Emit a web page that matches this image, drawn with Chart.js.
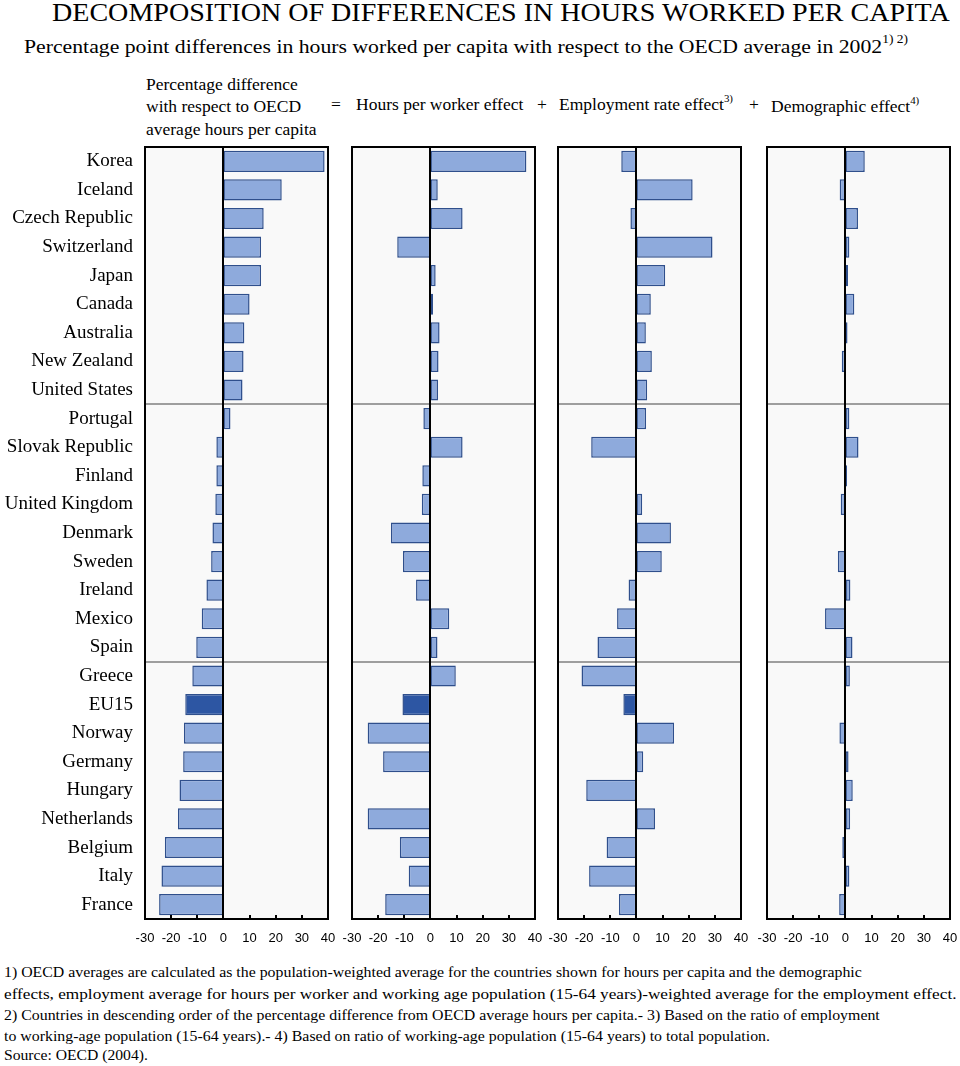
<!DOCTYPE html>
<html>
<head>
<meta charset="utf-8">
<script src="https://cdn.jsdelivr.net/npm/chart.js@4.4.1/dist/chart.umd.min.js"></script>
<style>
  body { margin:0; background:#fff; width:960px; height:1066px; position:relative; overflow:hidden;
         font-family:"Liberation Serif","Times New Roman",serif; color:#000; }
  .t { position:absolute; white-space:nowrap; transform-origin:0 0; line-height:1; }
  .t sup { font-size:62%; vertical-align:top; position:relative; top:-3px; }
  .h { font-size:17.5px; }
  canvas { position:absolute; top:140px; }
</style>
</head>
<body>
<div class="t fit" data-w="898" style="left:52px;top:0;font-size:25px">DECOMPOSITION OF DIFFERENCES IN HOURS WORKED PER CAPITA</div>
<div class="t fit" data-w="884" style="left:24px;top:37px;font-size:19px">Percentage point differences in hours worked per capita with respect to the OECD average in 2002<sup>1) 2)</sup></div>

<div class="t h" style="left:146px;top:76px">Percentage difference</div>
<div class="t h" style="left:146px;top:98px">with respect to OECD</div>
<div class="t h" style="left:146px;top:121px">average hours per capita</div>
<div class="t h" style="left:331px;top:96px">=</div>
<div class="t h" style="left:356px;top:96px">Hours per worker effect</div>
<div class="t h" style="left:537px;top:96px">+</div>
<div class="t h" style="left:559px;top:96px">Employment rate effect<sup>3)</sup></div>
<div class="t h" style="left:749px;top:96px">+</div>
<div class="t h" style="left:771px;top:98px">Demographic effect<sup>4)</sup></div>

<canvas id="c1" width="340" height="810" style="left:0"></canvas>
<canvas id="c2" width="213" height="810" style="left:337px"></canvas>
<canvas id="c3" width="213" height="810" style="left:543px"></canvas>
<canvas id="c4" width="213" height="810" style="left:752px"></canvas>

<div class="t fit" data-w="858" style="left:4px;top:965px;font-size:15px">1) OECD averages are calculated as the population-weighted average for the countries shown for hours per capita and the demographic</div>
<div class="t fit" data-w="953" style="left:4px;top:987px;font-size:15px">effects, employment average for hours per worker and working age population (15-64 years)-weighted average for the employment effect.</div>
<div class="t fit" data-w="876" style="left:4px;top:1008px;font-size:15px">2) Countries in descending order of the percentage difference from OECD average hours per capita.- 3) Based on the ratio of employment</div>
<div class="t fit" data-w="766" style="left:4px;top:1029px;font-size:15px">to working-age population (15-64 years).- 4) Based on ratio of working-age population (15-64 years) to total population.</div>
<div class="t fit" data-w="144" style="left:4px;top:1048px;font-size:15px">Source: OECD (2004).</div>

<script>
'use strict';
const countries = ['Korea','Iceland','Czech Republic','Switzerland','Japan','Canada','Australia','New Zealand','United States',
  'Portugal','Slovak Republic','Finland','United Kingdom','Denmark','Sweden','Ireland','Mexico','Spain',
  'Greece','EU15','Norway','Germany','Hungary','Netherlands','Belgium','Italy','France'];
const perCapita      = [38.7,22.3,15.4,14.4,14.4,10.0,8.0,7.7,7.3,2.7,-2.7,-2.7,-3.1,-4.2,-4.7,-6.5,-8.3,-10.4,-11.9,-14.6,-15.1,-15.4,-16.8,-17.4,-22.4,-23.7,-24.6];
const hoursPerWorker = [36.7,2.8,12.3,-12.7,2.0,1.0,3.5,3.1,2.9,-2.7,12.3,-3.1,-3.3,-15.1,-10.5,-5.5,7.2,2.7,9.7,-10.7,-24.0,-18.1,0,-24.0,-11.7,-8.3,-17.3];
const employmentRate = [-5.8,21.5,-2.3,29.1,11.0,5.5,3.6,5.9,4.1,3.7,-17.3,0,2.2,13.2,9.7,-3.0,-7.4,-14.9,-21.0,-5.0,14.4,2.6,-19.2,7.1,-11.4,-18.1,-6.7];
const demographic    = [7.4,-2.2,4.8,1.5,1.0,3.4,0.8,-1.4,0,1.5,5.0,0.6,-1.8,-0.2,-2.9,1.9,-7.8,2.7,1.7,0,-2.3,1.2,2.8,1.8,-1.2,1.5,-2.4];
const xTicks = [-30,-20,-10,0,10,20,30,40];
const groupBreaks = [8.5, 17.5];   // grey lines between country groups
const highlight = 'EU15';

// fit condensed text lines to the widths in the original
document.querySelectorAll('.fit').forEach(el => {
  el.style.transform = `scaleX(${(+el.dataset.w / el.offsetWidth).toFixed(4)})`;
});

// ─── Panel frame: background, separators, zero line, inner ticks, box ─────────
const framePlugin = {
  id: 'frame',
  beforeDatasetsDraw(chart) {
    const {ctx, chartArea: a, scales: {y}} = chart;
    ctx.save();
    ctx.fillStyle = '#f9f9f9';
    ctx.fillRect(a.left, a.top, a.width, a.height);
    ctx.strokeStyle = '#7f7f7f'; ctx.lineWidth = 1.5;
    groupBreaks.forEach(v => {
      const py = Math.round(y.getPixelForValue(v));
      ctx.beginPath(); ctx.moveTo(a.left, py); ctx.lineTo(a.right, py); ctx.stroke();
    });
    ctx.restore();
  },
  afterDatasetsDraw(chart) {
    const {ctx, chartArea: a, scales: {x}} = chart;
    ctx.save();
    ctx.strokeStyle = '#000'; ctx.lineWidth = 2;
    const x0 = Math.round(x.getPixelForValue(0));
    ctx.beginPath(); ctx.moveTo(x0, a.top); ctx.lineTo(x0, a.bottom); ctx.stroke();
    xTicks.forEach(v => {
      const px = Math.round(x.getPixelForValue(v));
      ctx.beginPath(); ctx.moveTo(px, a.bottom); ctx.lineTo(px, a.bottom - 4); ctx.stroke();
    });
    ctx.strokeRect(a.left, a.top, a.width, a.height);
    ctx.restore();
  }
};

const makePanel = (id, values, withLabels) => {
  const pad = withLabels ? {top:7, right:12, left:0, bottom:0} : {top:7, right:15, left:15, bottom:0};
  return new Chart(document.getElementById(id), {
    type: 'bar',
    data: {
      labels: countries,
      datasets: [{
        data: values,
        backgroundColor: countries.map(c => c === highlight ? '#2d56a3' : '#8eaadc'),
        borderColor: '#2f4f8c',
        borderWidth: 1.5,
        borderSkipped: false,
        barPercentage: 0.74,
        categoryPercentage: 1
      }]
    },
    options: {
      indexAxis: 'y',
      responsive: false,
      animation: false,
      layout: { padding: pad },
      scales: {
        x: {
          type: 'linear', min: -30, max: 40,
          afterBuildTicks: s => { s.ticks = xTicks.map(v => ({value: v})); },
          afterFit: s => { s.height = 31; s.paddingLeft = 0; s.paddingRight = 0; },
          grid: { display: false, drawTicks: false },
          border: { display: false },
          ticks: { autoSkip: false, maxRotation: 0, padding: 12, color: '#000',
                   font: { family: '"Liberation Sans", Arial, sans-serif', size: 13 } }
        },
        y: {
          display: withLabels,
          afterFit: s => {
            s.width = withLabels ? 145 : 0;
            s.paddingTop = 0; s.paddingBottom = 0;
          },
          grid: { display: false, drawTicks: false },
          border: { display: false },
          ticks: { autoSkip: false, padding: 12, color: '#000',
                   font: { family: '"Liberation Serif", "Times New Roman", serif', size: 19 } }
        }
      },
      plugins: { legend: { display: false }, tooltip: { enabled: false } }
    },
    plugins: [framePlugin]
  });
};

makePanel('c1', perCapita, true);
makePanel('c2', hoursPerWorker, false);
makePanel('c3', employmentRate, false);
makePanel('c4', demographic, false);
</script>
</body>
</html>
